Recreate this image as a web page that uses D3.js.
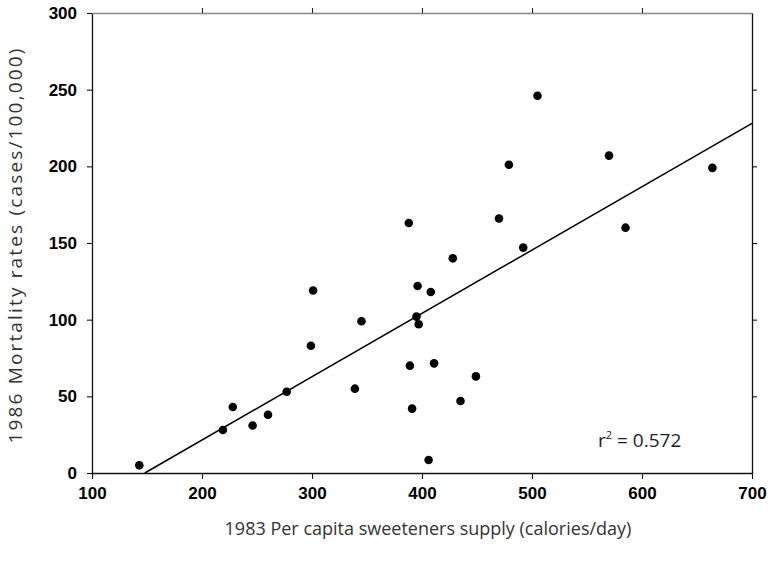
<!DOCTYPE html>
<html lang="en">
<head>
  <meta charset="UTF-8" />
  <title>Sweeteners vs mortality</title>
  <script src="https://d3js.org/d3.v7.min.js"></script>
  <style>
    body { margin: 0; background-color: white; }
    .tick text { font-family: "Liberation Sans", Arial, sans-serif; font-weight: bold; font-size: 17px; fill: #000; }
    .title { font-family: "Open Sans", sans-serif; fill: #333; }
  </style>
</head>
<body>
  <div id="chart"></div>
  <script>
  // sweeteners supply (calories/day), 1983
  var supply = [143, 219, 228, 246, 260, 277, 299, 301, 339, 345, 388, 389, 391, 395, 396,
                397, 406, 408, 411, 428, 435, 449, 470, 479, 492, 505, 570, 585, 664];
  // mortality rates (cases/100,000), 1986
  var mortality = [5, 28, 43, 31, 38, 53, 83, 119, 55, 99, 163, 70, 42, 102, 122,
                   97, 8.5, 118, 71.5, 140, 47, 63, 166, 201, 147, 246, 207, 160, 199];
  // fitted line end points
  var fitX = [148, 700];
  var fitY = [0, 228];
  var xTicks = [100, 200, 300, 400, 500, 600, 700];
  var yTicks = [0, 50, 100, 150, 200, 250, 300];

  var margin = {top: 13, right: 18, bottom: 88, left: 92},
      width = 770 - margin.left - margin.right,
      height = 561 - margin.top - margin.bottom;

  var svg = d3.select("#chart")
    .append("svg")
      .attr("width", 770)
      .attr("height", 561)
    .append("g")
      .attr("transform", "translate(" + margin.left + "," + margin.top + ")");

  var x = d3.scaleLinear().domain([100, 700]).range([0, width]);
  var y = d3.scaleLinear().domain([0, 300]).range([height, 0]);

  // bottom axis
  var xAxis = svg.append("g")
    .attr("transform", "translate(0," + height + ")")
    .call(d3.axisBottom(x).tickValues(xTicks).tickSize(6).tickPadding(8).tickSizeOuter(0));
  // left axis
  var yAxis = svg.append("g")
    .call(d3.axisLeft(y).tickValues(yTicks).tickSize(5).tickPadding(10).tickSizeOuter(0));
  // top & right frame with outward ticks, no labels
  var topAxis = svg.append("g")
    .call(d3.axisTop(x).tickValues(xTicks.slice(1, 6)).tickSize(5).tickFormat("").tickSizeOuter(0));
  var rightAxis = svg.append("g")
    .attr("transform", "translate(" + width + ",0)")
    .call(d3.axisRight(y).tickValues(yTicks.slice(1, 6)).tickSize(5).tickFormat("").tickSizeOuter(0));

  [xAxis, yAxis, rightAxis].forEach(function(a) {
    a.select(".domain").attr("stroke", "#111").attr("stroke-width", 1.3);
    a.selectAll(".tick line").attr("stroke", "#111").attr("stroke-width", 1.1);
  });
  topAxis.select(".domain").attr("stroke", "#888").attr("stroke-width", 1.3);
  topAxis.selectAll(".tick line").attr("stroke", "#222").attr("stroke-width", 1.1);

  // regression line
  svg.append("line")
    .attr("x1", x(fitX[0])).attr("y1", y(fitY[0]))
    .attr("x2", x(fitX[1])).attr("y2", y(fitY[1]))
    .attr("stroke", "#000")
    .attr("stroke-width", 1.5);

  // dots
  svg.append("g")
    .selectAll("circle")
    .data(supply)
    .enter()
    .append("circle")
      .attr("cx", function(d) { return x(d); })
      .attr("cy", function(d, i) { return y(mortality[i]); })
      .attr("r", 4.3)
      .style("fill", "#000");

  // r squared
  svg.append("text")
    .attr("x", x(560))
    .attr("y", y(17))
    .style("font-family", "Open Sans, sans-serif")
    .style("font-size", "19px")
    .style("fill", "#222")
    .html('r<tspan dy="-8" font-size="11px">2</tspan><tspan dy="8"> = 0.572</tspan>');

  // axis titles
  svg.append("text")
    .attr("class", "title")
    .attr("text-anchor", "middle")
    .style("font-size", "18px")
    .attr("x", 336)
    .attr("y", height + 62)
    .text("1983 Per capita sweeteners supply (calories/day)");

  svg.append("text")
    .attr("class", "title")
    .attr("text-anchor", "middle")
    .style("font-size", "19px")
    .attr("textLength", 395)
    .attr("lengthAdjust", "spacing")
    .attr("transform", "rotate(-90)")
    .attr("x", -y(148))
    .attr("y", -70)
    .text("1986 Mortality rates (cases/100,000)");
  </script>
</body>
</html>
